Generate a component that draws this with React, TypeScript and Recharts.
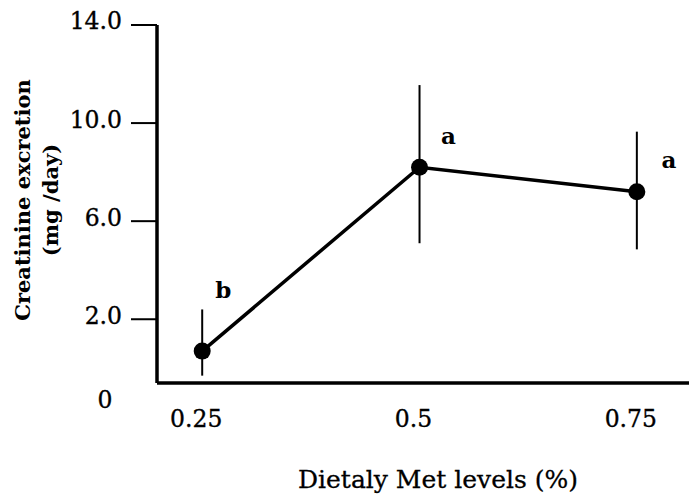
import React from 'react';
import { ComposedChart, Line, XAxis, YAxis, ErrorBar, LabelList } from 'recharts';

// ---- data ----
const metLevels = [0.25, 0.5, 0.75];
const creatinine = [0.7, 8.2, 7.2];
const errLow = [1.0, 3.1, 2.35];
const errHigh = [1.7, 3.35, 2.45];
const groupLetters = ['b', 'a', 'a'];
const yTicks = [2, 6, 10, 14];
const xTicks = [0.25, 0.5, 0.75];

const data = metLevels.map((x, i) => ({
  x,
  y: creatinine[i],
  err: [errLow[i], errHigh[i]],
  letter: groupLetters[i],
}));

// ---- style ----
const FONT = '"DejaVu Serif", serif';
const INK = '#000';
const letterDx = [21, 29, 32];
const letterDy = [-53, -23, -24];

const YTick = (props: any) => {
  const { x, y, payload } = props;
  return (
    <text x={x} y={y - 4} dy="0.36em" textAnchor="end" fontFamily={FONT} fontSize={23.5} fill={INK} stroke={INK} strokeWidth={0.35}>
      {Number(payload.value).toFixed(1)}
    </text>
  );
};

const XTick = (props: any) => {
  const { x, payload } = props;
  return (
    <text x={x - 6} y={427} textAnchor="middle" fontFamily={FONT} fontSize={23.5} fill={INK} stroke={INK} strokeWidth={0.35}>
      {String(payload.value)}
    </text>
  );
};

const YTitle = () => (
  <g>
    <text
      x={0}
      y={0}
      transform="translate(30,200) rotate(-90)"
      textAnchor="middle"
      fontFamily={FONT}
      fontWeight="bold"
      fontSize={21}
      fill={INK}
    >
      Creatinine excretion
    </text>
    <text
      x={0}
      y={0}
      transform="translate(58,200) rotate(-90)"
      textAnchor="middle"
      fontFamily={FONT}
      fontWeight="bold"
      fontSize={21}
      fill={INK}
    >
      (mg /day)
    </text>
  </g>
);

const XTitle = () => (
  <g>
    <text x={438} y={488} textAnchor="middle" fontFamily={FONT} fontSize={25} fill={INK} stroke={INK} strokeWidth={0.3}>
      Dietaly Met levels (%)
    </text>
    <text x={105} y={408} textAnchor="middle" fontFamily={FONT} fontSize={23.5} fill={INK} stroke={INK} strokeWidth={0.35}>
      0
    </text>
  </g>
);

const Letter = (props: any) => {
  const { x, y, index, value } = props;
  return (
    <text
      x={x + letterDx[index]}
      y={y + letterDy[index]}
      textAnchor="middle"
      fontFamily={FONT}
      fontWeight="bold"
      fontSize={23}
      fill={INK}
    >
      {value}
    </text>
  );
};

export default function App() {
  return (
    <div style={{ position: 'absolute', left: 0, top: 0, width: 689, height: 499, background: '#fff' }}>
      <ComposedChart width={689} height={499} data={data} margin={{ top: 25, right: 0, bottom: 0, left: 0 }}>
        <XAxis
          type="number"
          dataKey="x"
          domain={[0.198, 0.81]}
          allowDataOverflow
          ticks={xTicks}
          height={116}
          axisLine={{ stroke: INK, strokeWidth: 3.5 }}
          tickLine={false}
          tick={<XTick />}
          label={{ content: () => <XTitle /> }}
        />
        <YAxis
          type="number"
          domain={[-0.6, 14]}
          allowDataOverflow
          ticks={yTicks}
          width={157}
          tickSize={26}
          tickMargin={9}
          axisLine={{ stroke: INK, strokeWidth: 3.5 }}
          tickLine={{ stroke: INK, strokeWidth: 2 }}
          tick={<YTick />}
          label={{ content: () => <YTitle /> }}
        />
        <Line
          dataKey="y"
          stroke={INK}
          strokeWidth={3.5}
          dot={{ r: 8.5, fill: INK, stroke: 'none' }}
          isAnimationActive={false}
        >
          <ErrorBar dataKey="err" direction="y" width={0} stroke={INK} strokeWidth={2} />
          <LabelList dataKey="letter" content={<Letter />} />
        </Line>
      </ComposedChart>
    </div>
  );
}
